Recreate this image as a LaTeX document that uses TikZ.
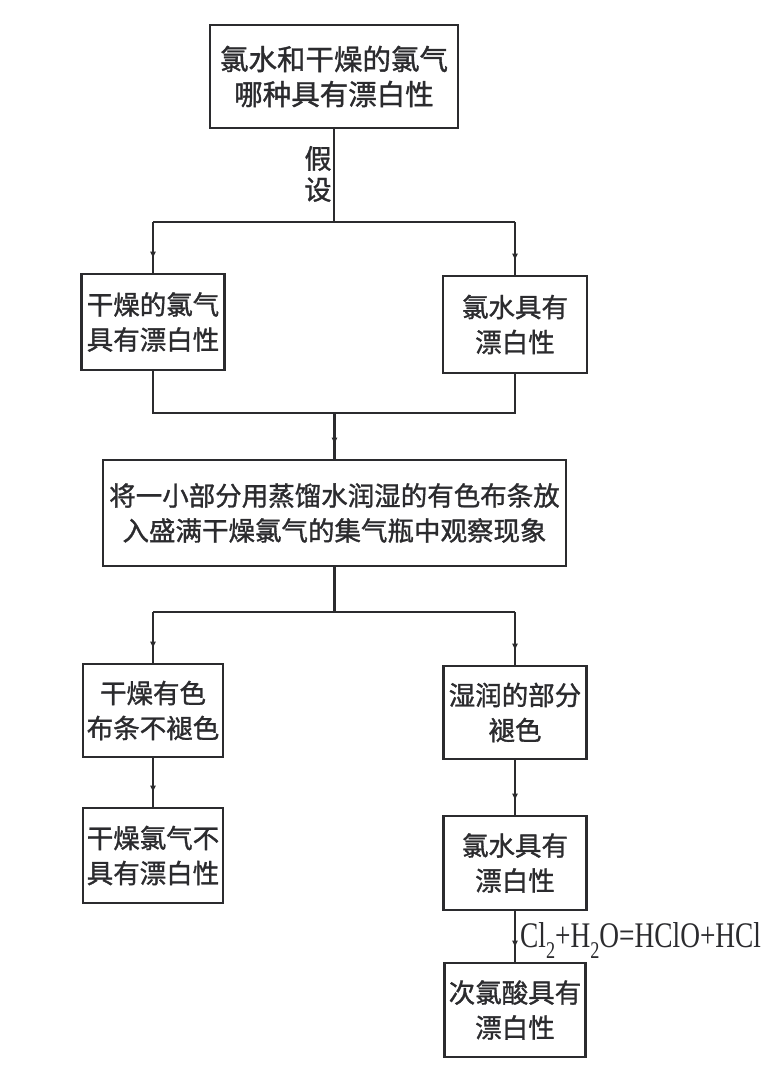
\documentclass[tikz,border=0pt]{standalone}
\usepackage{fontspec}
\setmainfont{Liberation Serif}
\newfontfamily\cjk{Noto Sans CJK SC}[FakeBold=1.2]
\usetikzlibrary{arrows.meta,decorations.markings}
\definecolor{ink}{HTML}{2B2B2E}
\newcommand\lowsub[1]{\raisebox{-0.32em}{\fontsize{24}{24}\selectfont #1}}
\begin{document}
\begin{tikzpicture}[x=1pt,y=-1pt,
  box/.style={draw=ink,line width=2.6pt,inner sep=0pt,align=center,text=ink,
    font=\cjk\fontsize{26.5}{35}\selectfont},
  conn/.style={draw=ink,line width=2.6pt},
  arr/.style={conn,postaction={decorate},
    decoration={markings,mark=at position -14pt with {\arrow{Latex[length=7pt,width=6pt]}}}},
  lbl/.style={inner sep=0pt,text=ink}]
\useasboundingbox[fill=white] (0,0) rectangle (781,1080);
% boxes
\node[box,minimum width=248pt,minimum height=103pt,font=\cjk\fontsize{28.5}{35}\selectfont] (T) at (334,76.5) {氯水和干燥的氯气\\哪种具有漂白性};
\node[box,minimum width=143pt,minimum height=96pt] (L1) at (153,322) {干燥的氯气\\具有漂白性};
\node[box,minimum width=144pt,minimum height=97pt] (R1) at (515,324.5) {氯水具有\\漂白性};
\node[box,minimum width=463pt,minimum height=106pt] (M) at (334.5,513) {将一小部分用蒸馏水润湿的有色布条放\\入盛满干燥氯气的集气瓶中观察现象};
\node[box,minimum width=140pt,minimum height=93pt] (L2) at (153,710.5) {干燥有色\\布条不褪色};
\node[box,minimum width=143pt,minimum height=93pt] (R2) at (515,712.5) {湿润的部分\\褪色};
\node[box,minimum width=140pt,minimum height=95pt] (L3) at (153,855.5) {干燥氯气不\\具有漂白性};
\node[box,minimum width=143pt,minimum height=94pt] (R3) at (515,863) {氯水具有\\漂白性};
\node[box,minimum width=141pt,minimum height=94pt] (B) at (515,1010) {次氯酸具有\\漂白性};
% junction coordinates
\coordinate (jL) at (153,222);
\coordinate (jR) at (515,222);
\coordinate (kL) at (153,413);
\coordinate (kR) at (515,413);
\coordinate (mL) at (153,612);
\coordinate (mR) at (515,612);
% connectors
\draw[conn] (T.south) -- (T.south |- jL);
\draw[conn] (jL) -- (jR);
\draw[arr] (jL) -- (L1.north);
\draw[arr] (jR) -- (R1.north);
\draw[conn] (L1.south) -- (kL) -- (kR) -- (R1.south);
\draw[arr] (M.north |- kL) -- (M.north);
\draw[conn] (M.south) -- (M.south |- mL);
\draw[conn] (mL) -- (mR);
\draw[arr] (mL) -- (L2.north);
\draw[arr] (mR) -- (R2.north);
\draw[arr] (L2.south) -- (L3.north);
\draw[arr] (R2.south) -- (R3.north);
\draw[arr] (R3.south) -- (B.north);
% labels
\node[lbl,align=center,font=\cjk\fontsize{27}{31}\selectfont] (hyp) at (318,174) {假\\设};
\node[lbl,anchor=base west,font=\fontsize{36}{36}\selectfont] (eq) at (520,947)
  {\scalebox{0.76}[1]{Cl\lowsub{2}+H\lowsub{2}O=HClO+HCl}};
\end{tikzpicture}
\end{document}
